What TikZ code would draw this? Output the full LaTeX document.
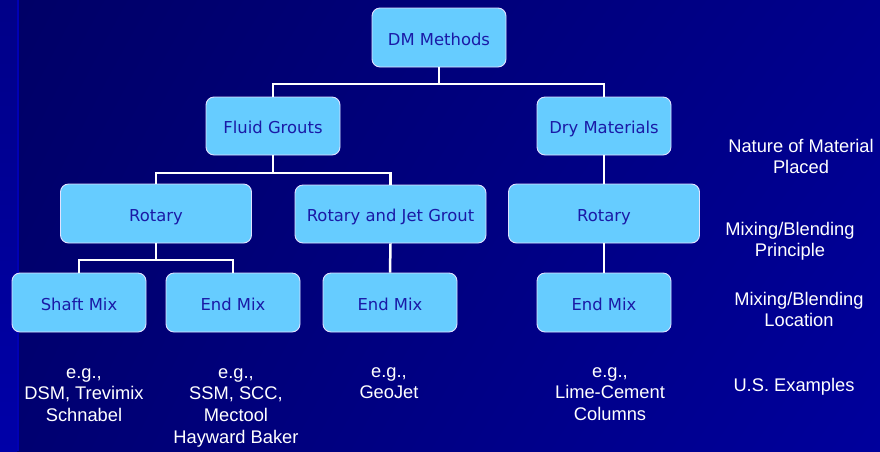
\documentclass[tikz,border=0pt]{standalone}
\usepackage{fontspec}
\usetikzlibrary{shadings}
\setmainfont{Liberation Sans}
\newfontfamily\boxfont{DejaVu Sans}
\definecolor{bgtl}{RGB}{0,0,102}
\definecolor{bgtr}{RGB}{0,0,140}
\definecolor{bgbl}{RGB}{0,0,112}
\definecolor{bgbr}{RGB}{0,0,156}
\definecolor{stript}{RGB}{0,0,136}
\definecolor{stripb}{RGB}{0,0,168}
\definecolor{stripline}{RGB}{0,0,180}
\definecolor{boxfill}{RGB}{102,204,255}
\definecolor{boxtext}{RGB}{26,26,166}
\definecolor{boxline}{RGB}{225,225,255}
\tikzset{
  dmbox/.style={draw=boxline, line width=0.9pt, fill=boxfill, rounded corners=8pt,
    minimum height=59pt, inner sep=0pt, text height=15pt, text depth=0pt,
    text=boxtext, font=\boxfont\fontsize{16.4}{19}\selectfont},
  smallbox/.style={dmbox, minimum width=134pt},
  widebox/.style={dmbox, minimum width=191pt},
  conn/.style={draw=white, line width=2.5pt},
  lbl/.style={text=white, align=center, anchor=base, inner sep=0pt,
    font=\fontsize{18.3}{21.8}\selectfont}
}
\begin{document}
\begin{tikzpicture}[x=1pt,y=-1pt]
\useasboundingbox (0,0) rectangle (880,451);
\shade[upper left=bgtl, upper right=bgtr, lower left=bgbl, lower right=bgbr] (0,0) rectangle (880,451);
\shade[top color=stript, bottom color=stripb] (0,0) rectangle (17,451);
\fill[stripline] (17,0) rectangle (19,451);

% boxes
\node[smallbox] (dm) at (439,37.5) {DM Methods};
\node[smallbox, minimum height=58pt] (fg) at (273,126) {Fluid Grouts};
\node[smallbox, minimum height=58pt] (dry) at (604,126) {Dry Materials};
\node[widebox] (rotl) at (156,213.5) {Rotary};
\node[widebox, minimum height=58pt] (rjg) at (390.5,214) {Rotary and Jet Grout};
\node[widebox] (rotr) at (604,213.5) {Rotary};
\node[smallbox] (shaft) at (79,302.5) {Shaft Mix};
\node[smallbox] (end1) at (233,302.5) {End Mix};
\node[smallbox] (end2) at (390,302.5) {End Mix};
\node[smallbox] (end3) at (604,302.5) {End Mix};

% connectors
\coordinate (j1) at (439,84);
\coordinate (j2) at (273,173);
\coordinate (j3) at (156,260);
\draw[conn] (dm.south) -- (j1) -| (fg.north);
\draw[conn] (j1) -| (dry.north);
\draw[conn] (fg.south) -- (j2) -| (rotl.north);
\draw[conn] (j2) -| (rjg.north);
\draw[conn] (dry.south) -- (rotr.north);
\draw[conn] (rotl.south) -- (j3) -| (shaft.north);
\draw[conn] (j3) -| (end1.north);
\draw[conn] (rjg.south) -- (end2.north);
\draw[conn] (rotr.south) -- (end3.north);

% right-hand labels (anchor = baseline of last line)
\node[lbl] (l1) at (801,173.8) {Nature of Material\\Placed};
\node[lbl] (l2) at (790,256.8) {Mixing/Blending\\Principle};
\node[lbl] (l3) at (799,326.8) {Mixing/Blending\\Location};
\node[lbl] (l4) at (794,391) {U.S. Examples};

% examples
\node[lbl] (e1) at (84,421.6) {e.g.,\\DSM, Trevimix\\Schnabel};
\node[lbl] (e2) at (236,443.4) {e.g.,\\SSM, SCC,\\Mectool\\Hayward Baker};
\node[lbl] (e3) at (389,398.8) {e.g.,\\GeoJet};
\node[lbl] (e4) at (610,420.6) {e.g.,\\Lime-Cement\\Columns};
\end{tikzpicture}
\end{document}
